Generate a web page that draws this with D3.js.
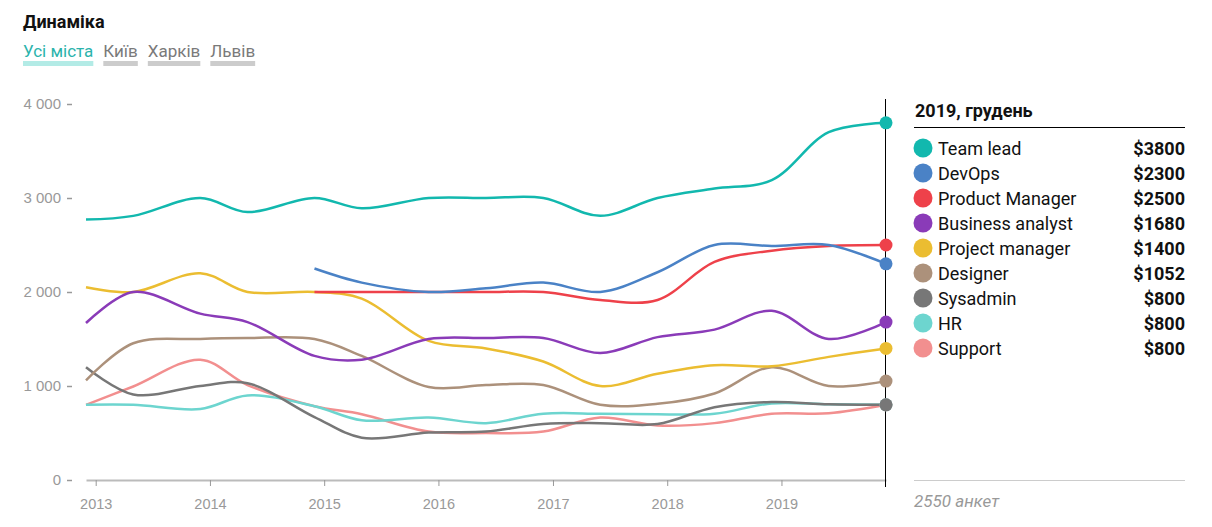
<!DOCTYPE html>
<html>
<head>
<meta charset="utf-8">
<script src="https://cdn.jsdelivr.net/npm/d3@7"></script>
<style>
  body { margin: 0; background: #fff; }
  .axis text { font-family: "Liberation Sans", Arial, sans-serif; font-size: 14.5px; fill: #999; }
  .lbl { font-family: Roboto, "Noto Sans", sans-serif; }
</style>
</head>
<body>
<div id="chart"></div>
<script>
// survey dates (month of each survey)
let dates = ["2012-12", "2013-05", "2013-12", "2014-05", "2014-12", "2015-05", "2015-12",
    "2016-06", "2016-12", "2017-06", "2017-12", "2018-06", "2018-12", "2019-06", "2019-12"];

let cities = ["Усі міста", "Київ", "Харків", "Львів"];

let roles = ["Team lead", "DevOps", "Product Manager", "Business analyst", "Project manager",
    "Designer", "Sysadmin", "HR", "Support"];
let colors = ["#12b8ae", "#4a82c6", "#ee414a", "#8a3bb8", "#ebbd31", "#ac917b", "#777777", "#6dd5cf", "#f28f8f"];

// median salary, $
let teamLead = [2770, 2810, 3000, 2850, 3000, 2890, 3000, 3000, 3000, 2810, 3000, 3100, 3190, 3700, 3800];
let devOps = [null, null, null, null, 2250, 2100, 2000, 2040, 2100, 2000, 2210, 2500, 2490, 2500, 2300];
let productManager = [null, null, null, null, 2000, 2000, 2000, 2000, 2000, 1915, 1915, 2320, 2440, 2490, 2500];
let businessAnalyst = [1670, 2000, 1770, 1680, 1320, 1280, 1500, 1510, 1510, 1350, 1520, 1600, 1800, 1500, 1680];
let projectManager = [2050, 2000, 2200, 2000, 2000, 1930, 1480, 1400, 1260, 1000, 1130, 1220, 1210, 1310, 1400];
let designer = [1060, 1455, 1500, 1510, 1500, 1320, 990, 1010, 1010, 800, 810, 920, 1200, 1000, 1052];
let sysadmin = [1200, 910, 1000, 1030, 670, 450, 505, 515, 595, 605, 595, 775, 830, 805, 800];
let hr = [800, 800, 755, 900, 785, 635, 665, 605, 705, 705, 700, 705, 815, 805, 800];
let support = [800, 995, 1280, 1010, 785, 700, 515, 500, 515, 665, 580, 605, 705, 710, 800];

let series = [teamLead, devOps, productManager, businessAnalyst, projectManager, designer, sysadmin, hr, support];

let yTicks = [0, 1000, 2000, 3000, 4000];
let legendTitle = "2019, грудень";
let footNote = "2550 анкет";

let svgwidth = 1212;
let svgheight = 527;

let svg = d3.select("#chart")
    .append("svg")
    .attr("width", svgwidth)
    .attr("height", svgheight);

let parseMonth = d3.timeParse("%Y-%m");
let dateValues = dates.map(parseMonth);

let x = d3.scaleTime()
    .domain(d3.extent(dateValues))
    .range([86, 886]);

let y = d3.scaleLinear()
    .domain([0, 4000])
    .range([480, 104]);

// title and city tabs
svg.append("text")
    .attr("class", "lbl")
    .attr("x", 23)
    .attr("y", 28)
    .style("font-size", "18px")
    .style("font-weight", "bold")
    .style("fill", "#111")
    .text("Динаміка");

let tabX = 23;
cities.forEach(function(c, i) {
    let t = svg.append("text")
        .attr("class", "lbl")
        .attr("x", tabX)
        .attr("y", 57)
        .style("font-size", "17px")
        .style("fill", i === 0 ? "#2bb3ac" : "#7a7a7a")
        .text(c);
    let w = t.node().getComputedTextLength();
    svg.append("rect")
        .attr("x", tabX)
        .attr("y", 61)
        .attr("width", w)
        .attr("height", 5)
        .attr("fill", i === 0 ? "#b3ebe6" : "#cccccc");
    tabX += w + 10;
});

// axes
let yAxis = svg.append("g")
    .attr("class", "axis")
    .attr("transform", "translate(72,0)")
    .call(d3.axisLeft(y)
        .tickValues(yTicks)
        .tickSize(5)
        .tickPadding(6)
        .tickFormat(d => d3.format(",")(d).replace(",", " ")));
yAxis.select(".domain").remove();
yAxis.selectAll("text").style("font-size", "15px");
yAxis.selectAll("line").attr("stroke", "#999").attr("stroke-width", 1.5);

let xAxis = svg.append("g")
    .attr("class", "axis")
    .attr("transform", "translate(0,480)")
    .call(d3.axisBottom(x)
        .ticks(d3.timeYear.every(1))
        .tickSizeInner(6)
        .tickSizeOuter(0)
        .tickPadding(13)
        .tickFormat(d3.timeFormat("%Y")));
xAxis.select(".domain").attr("stroke", "#bbb").attr("stroke-width", 2);
xAxis.selectAll("line").attr("stroke", "#999");

// lines
let line = d3.line()
    .defined(d => d[1] !== null)
    .x(d => x(d[0]))
    .y(d => y(d[1]))
    .curve(d3.curveCatmullRom);

let order = d3.range(series.length).reverse();

let lines = svg.append("g");
order.forEach(function(i) {
    lines.append("path")
        .datum(dateValues.map((d, j) => [d, series[i][j]]))
        .attr("fill", "none")
        .attr("stroke", colors[i])
        .attr("stroke-width", 2.5)
        .attr("d", line);
});

// current month marker
let last = dateValues[dateValues.length - 1];
let markX = Math.round(x(last)) - 0.5;
svg.append("line")
    .attr("x1", markX)
    .attr("x2", markX)
    .attr("y1", 99)
    .attr("y2", 487)
    .attr("stroke", "#000")
    .attr("stroke-width", 1);

order.forEach(function(i) {
    let v = series[i][series[i].length - 1];
    svg.append("circle")
        .attr("cx", x(last))
        .attr("cy", y(v))
        .attr("r", 6.5)
        .attr("fill", colors[i]);
});

// legend
svg.append("text")
    .attr("class", "lbl")
    .attr("x", 915)
    .attr("y", 117)
    .style("font-size", "18px")
    .style("font-weight", "bold")
    .style("fill", "#111")
    .text(legendTitle);

svg.append("line")
    .attr("x1", 914)
    .attr("x2", 1185)
    .attr("y1", 127.5)
    .attr("y2", 127.5)
    .attr("stroke", "#000");

let rows = svg.append("g");
roles.forEach(function(r, i) {
    let cy = 148 + i * 25;
    let v = series[i][series[i].length - 1];
    rows.append("circle")
        .attr("cx", 923)
        .attr("cy", cy)
        .attr("r", 9.5)
        .attr("fill", colors[i]);
    rows.append("text")
        .attr("class", "lbl")
        .attr("x", 938)
        .attr("y", cy + 6.5)
        .style("font-size", "18px")
        .style("fill", "#111")
        .text(r);
    rows.append("text")
        .attr("class", "lbl")
        .attr("x", 1185)
        .attr("y", cy + 6.5)
        .attr("text-anchor", "end")
        .style("font-size", "18px")
        .style("font-weight", "bold")
        .style("fill", "#111")
        .text("$" + v);
});

svg.append("line")
    .attr("x1", 914)
    .attr("x2", 1185)
    .attr("y1", 480.5)
    .attr("y2", 480.5)
    .attr("stroke", "#ccc");

svg.append("text")
    .attr("class", "lbl")
    .attr("x", 914)
    .attr("y", 507)
    .style("font-size", "17px")
    .style("font-style", "italic")
    .style("fill", "#999")
    .text(footNote);
</script>
</body>
</html>
